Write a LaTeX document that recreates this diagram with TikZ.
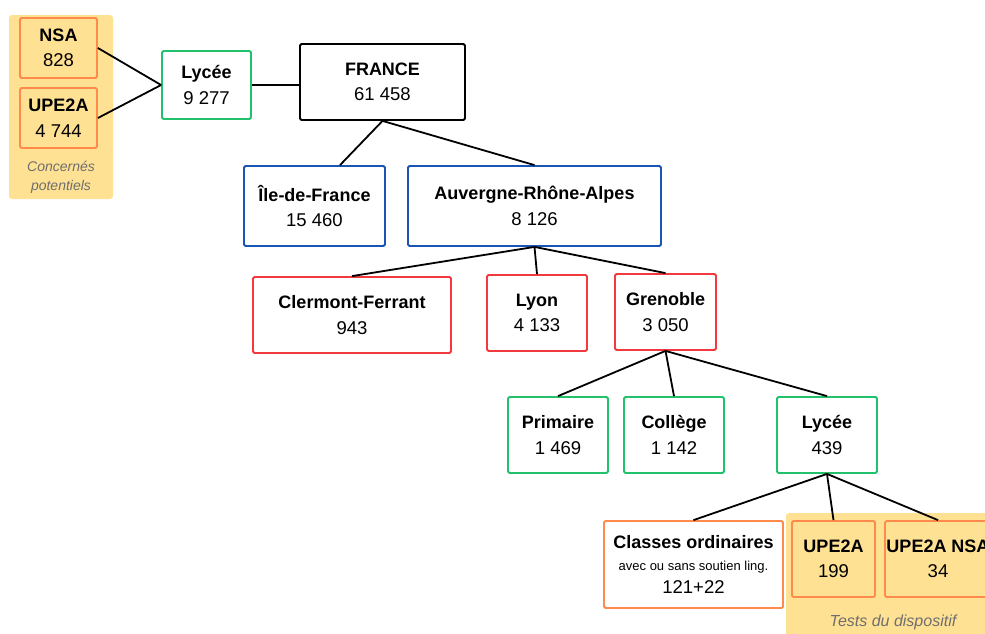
\documentclass[tikz,border=0pt]{standalone}
\usepackage{fontspec}
\setmainfont{Liberation Sans}
\definecolor{cgreen}{HTML}{22C16B}
\definecolor{cblue}{HTML}{1A55B5}
\definecolor{cred}{HTML}{F2393E}
\definecolor{corange}{HTML}{FF8A4C}
\definecolor{cyellow}{HTML}{FFE194}
\definecolor{cgray}{HTML}{6E6E6E}
\tikzset{
  box/.style={draw, line width=1.8pt, rounded corners=1.5pt, align=center, inner sep=0pt,
    font=\fontsize{18.5}{25.5}\selectfont},
  gbox/.style={box, draw=cgreen, fill=white},
  bbox/.style={box, draw=cblue, fill=white},
  rbox/.style={box, draw=cred, fill=white},
  obox/.style={box, draw=corange, fill=cyellow},
  kbox/.style={box, draw=black, fill=white},
  link/.style={draw=black, line width=1.8pt},
  note/.style={text=cgray, align=center, font=\itshape\fontsize{14}{19}\selectfont, inner sep=0pt},
  panel/.style={fill=cyellow, rounded corners=3pt}
}
\newcommand{\hd}[1]{\textbf{\fontsize{18}{25.5}\selectfont #1}}
\begin{document}
\begin{tikzpicture}[x=1pt,y=-1pt]
\useasboundingbox (0,0) rectangle (985,633);
% panels
\fill[panel] (9,15) rectangle (113,199);
\fill[panel] (786,513) rectangle (1000,650);
% nodes
\node[obox, minimum width=77pt, minimum height=60pt] (nsa) at (58.5,48) {\hd{NSA}\\828};
\node[obox, minimum width=77pt, minimum height=60pt] (upe) at (58.5,118) {\hd{UPE2A}\\4 744};
\node[note] (conc) at (61,177.5) {Concernés\\potentiels};
\node[gbox, minimum width=89pt, minimum height=68pt] (lyc1) at (206.5,85) {\hd{Lycée}\\9 277};
\node[kbox, minimum width=165pt, minimum height=76pt] (fr) at (382.5,82) {\hd{FRANCE}\\61 458};
\node[bbox, minimum width=141pt, minimum height=80pt] (idf) at (314.5,206) {\hd{Île-de-France}\\15 460};
\node[bbox, minimum width=253pt, minimum height=80pt] (ara) at (534.5,206) {\hd{Auvergne-Rhône-Alpes}\\8 126};
\node[rbox, minimum width=198pt, minimum height=76pt] (cf) at (352,315) {\hd{Clermont-Ferrant}\\943};
\node[rbox, minimum width=100pt, minimum height=76pt] (lyon) at (537,313) {\hd{Lyon}\\4 133};
\node[rbox, minimum width=101pt, minimum height=76pt] (gre) at (665.5,312) {\hd{Grenoble}\\3 050};
\node[gbox, minimum width=100pt, minimum height=76pt] (pri) at (558,435) {\hd{Primaire}\\1 469};
\node[gbox, minimum width=100pt, minimum height=76pt] (col) at (674,435) {\hd{Collège}\\1 142};
\node[gbox, minimum width=100pt, minimum height=76pt] (lyc2) at (827,435) {\hd{Lycée}\\439};
\node[box, draw=corange, fill=white, minimum width=179pt, minimum height=87pt] (cls) at (693.5,564.5)
  {\hd{Classes ordinaires}\\[-4pt]{\fontsize{13}{22}\selectfont avec ou sans soutien ling.}\\[-2pt]121+22};
\node[obox, minimum width=83pt, minimum height=76pt] (up2) at (833.5,559) {\hd{UPE2A}\\199};
\node[obox, minimum width=106pt, minimum height=76pt] (up2n) at (938,559) {\hd{UPE2A NSA}\\34};
\node[note, font=\itshape\fontsize{16}{19}\selectfont] (tests) at (893,622) {Tests du dispositif};
% links
\draw[link] (nsa.east) -- (lyc1.west);
\draw[link] (upe.east) -- (lyc1.west);
\draw[link] (lyc1.east) -- (lyc1.east -| fr.west);
\draw[link] (fr.south) -- ([xshift=25.5pt]idf.north);
\draw[link] (fr.south) -- (ara.north);
\draw[link] (ara.south) -- (cf.north);
\draw[link] (ara.south) -- (lyon.north);
\draw[link] (ara.south) -- (gre.north);
\draw[link] (gre.south) -- (pri.north);
\draw[link] (gre.south) -- (col.north);
\draw[link] (gre.south) -- (lyc2.north);
\draw[link] (lyc2.south) -- (cls.north);
\draw[link] (lyc2.south) -- (up2.north);
\draw[link] (lyc2.south) -- (up2n.north);
\end{tikzpicture}
\end{document}
